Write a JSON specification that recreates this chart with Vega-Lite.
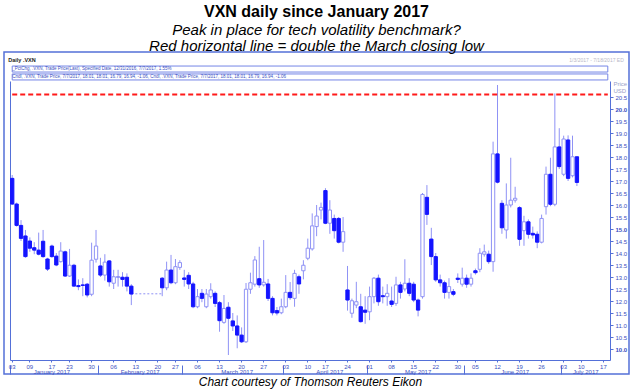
{
  "$schema": "https://vega.github.io/schema/vega-lite/v6.json",
  "width": 625,
  "height": 322,
  "autosize": {"type": "none"},
  "padding": {"left": 4, "top": 52, "right": 4, "bottom": 17},
  "background": "white",
  "title": {
    "text": "VXN daily since January 2017",
    "subtitle": ["Peak in place for tech volatility benchmark?", "Red horizontal line = double the March closing low"],
    "anchor": "middle", "frame": "group",
    "font": "Liberation Sans", "fontSize": 16, "fontWeight": "bold", "color": "#000000",
    "subtitleFont": "Liberation Sans", "subtitleFontSize": 15, "subtitleFontStyle": "italic", "subtitleColor": "#000000",
    "subtitleLineHeight": 16, "subtitlePadding": 3, "offset": -2
  },
  "config": {
    "view": {"stroke": "#5470d8", "strokeWidth": 1.5},
    "font": "Liberation Sans",
    "axis": {"grid": false, "labelFont": "Liberation Sans", "titleFont": "Liberation Sans"}
  },
  "datasets": {
    "ohlc": [
      {"d":"2017-01-03","o":17.11,"h":17.25,"l":16.0,"c":16.04},
      {"d":"2017-01-04","o":16.04,"h":16.1,"l":15.1,"c":15.15},
      {"d":"2017-01-05","o":15.15,"h":15.37,"l":14.5,"c":14.61},
      {"d":"2017-01-06","o":14.71,"h":14.96,"l":13.8,"c":13.85},
      {"d":"2017-01-09","o":14.5,"h":14.65,"l":14.05,"c":14.2},
      {"d":"2017-01-10","o":14.22,"h":14.45,"l":13.95,"c":14.12},
      {"d":"2017-01-11","o":14.12,"h":14.85,"l":13.9,"c":13.95},
      {"d":"2017-01-12","o":14.49,"h":14.96,"l":13.8,"c":13.85},
      {"d":"2017-01-13","o":13.75,"h":13.8,"l":13.25,"c":13.33},
      {"d":"2017-01-17","o":14.29,"h":14.35,"l":13.8,"c":13.85},
      {"d":"2017-01-18","o":13.87,"h":14.0,"l":13.45,"c":13.5},
      {"d":"2017-01-19","o":13.64,"h":14.45,"l":13.6,"c":14.08},
      {"d":"2017-01-20","o":14.05,"h":14.1,"l":13.0,"c":13.04},
      {"d":"2017-01-23","o":13.04,"h":14.17,"l":13.0,"c":13.49},
      {"d":"2017-01-24","o":13.49,"h":13.55,"l":12.6,"c":12.62},
      {"d":"2017-01-25","o":12.64,"h":12.9,"l":12.45,"c":12.6},
      {"d":"2017-01-26","o":12.67,"h":12.95,"l":12.2,"c":12.65},
      {"d":"2017-01-27","o":12.7,"h":12.75,"l":12.15,"c":12.25},
      {"d":"2017-01-30","o":12.28,"h":14.43,"l":12.2,"c":13.7},
      {"d":"2017-01-31","o":13.74,"h":14.96,"l":13.6,"c":14.29},
      {"d":"2017-02-01","o":13.46,"h":13.8,"l":13.0,"c":13.08},
      {"d":"2017-02-02","o":13.08,"h":13.95,"l":12.85,"c":13.62},
      {"d":"2017-02-03","o":13.67,"h":13.7,"l":12.6,"c":12.8},
      {"d":"2017-02-06","o":12.74,"h":13.3,"l":12.5,"c":13.01},
      {"d":"2017-02-07","o":12.98,"h":13.3,"l":12.6,"c":13.02},
      {"d":"2017-02-08","o":12.99,"h":13.2,"l":12.6,"c":12.9},
      {"d":"2017-02-09","o":12.99,"h":13.15,"l":12.4,"c":12.62},
      {"d":"2017-02-10","o":12.62,"h":12.7,"l":11.83,"c":12.29},
      {"d":"2017-02-22","o":12.95,"h":13.0,"l":12.2,"c":12.55},
      {"d":"2017-02-23","o":12.55,"h":13.64,"l":12.45,"c":13.29},
      {"d":"2017-02-24","o":13.29,"h":13.92,"l":12.7,"c":12.76},
      {"d":"2017-02-27","o":12.76,"h":13.75,"l":12.7,"c":13.43},
      {"d":"2017-02-28","o":13.4,"h":13.7,"l":13.3,"c":13.6},
      {"d":"2017-03-01","o":12.96,"h":13.3,"l":12.6,"c":12.9},
      {"d":"2017-03-02","o":13.07,"h":13.2,"l":12.5,"c":12.71},
      {"d":"2017-03-03","o":12.71,"h":12.8,"l":11.7,"c":11.76},
      {"d":"2017-03-06","o":11.76,"h":12.5,"l":11.7,"c":12.18},
      {"d":"2017-03-07","o":12.32,"h":12.5,"l":11.95,"c":12.11},
      {"d":"2017-03-08","o":11.76,"h":12.5,"l":11.7,"c":12.29},
      {"d":"2017-03-09","o":12.18,"h":12.74,"l":12.1,"c":12.46},
      {"d":"2017-03-10","o":12.32,"h":12.4,"l":11.75,"c":11.9},
      {"d":"2017-03-13","o":11.93,"h":12.0,"l":10.72,"c":11.18},
      {"d":"2017-03-14","o":11.11,"h":12.25,"l":11.05,"c":11.69},
      {"d":"2017-03-15","o":11.74,"h":11.95,"l":9.75,"c":11.28},
      {"d":"2017-03-16","o":11.17,"h":11.5,"l":10.75,"c":10.96},
      {"d":"2017-03-17","o":10.96,"h":11.4,"l":10.03,"c":10.58},
      {"d":"2017-03-20","o":10.58,"h":10.9,"l":10.25,"c":10.3},
      {"d":"2017-03-21","o":10.3,"h":12.75,"l":10.25,"c":12.49},
      {"d":"2017-03-22","o":12.49,"h":13.18,"l":12.3,"c":12.76},
      {"d":"2017-03-23","o":12.7,"h":13.87,"l":12.6,"c":13.71},
      {"d":"2017-03-24","o":12.93,"h":14.26,"l":12.55,"c":12.67},
      {"d":"2017-03-27","o":12.67,"h":14.54,"l":12.6,"c":12.78},
      {"d":"2017-03-28","o":12.71,"h":12.92,"l":12.0,"c":12.11},
      {"d":"2017-03-29","o":12.11,"h":12.2,"l":11.4,"c":11.51},
      {"d":"2017-03-30","o":11.6,"h":11.75,"l":11.4,"c":11.5},
      {"d":"2017-03-31","o":11.51,"h":12.1,"l":11.45,"c":11.76},
      {"d":"2017-04-03","o":11.76,"h":13.08,"l":11.7,"c":12.36},
      {"d":"2017-04-04","o":12.36,"h":12.79,"l":12.05,"c":12.14},
      {"d":"2017-04-05","o":12.11,"h":13.3,"l":11.76,"c":13.15},
      {"d":"2017-04-06","o":13.01,"h":13.1,"l":12.3,"c":12.71},
      {"d":"2017-04-07","o":13.26,"h":13.7,"l":12.9,"c":13.49},
      {"d":"2017-04-10","o":13.78,"h":14.6,"l":13.7,"c":14.2},
      {"d":"2017-04-11","o":14.17,"h":15.65,"l":14.1,"c":15.13},
      {"d":"2017-04-12","o":15.1,"h":16.0,"l":14.7,"c":15.54},
      {"d":"2017-04-13","o":15.79,"h":16.1,"l":15.4,"c":15.9},
      {"d":"2017-04-17","o":16.6,"h":16.7,"l":15.2,"c":15.24},
      {"d":"2017-04-18","o":15.24,"h":16.2,"l":14.8,"c":15.79},
      {"d":"2017-04-19","o":15.44,"h":15.6,"l":14.6,"c":14.93},
      {"d":"2017-04-20","o":15.44,"h":15.5,"l":14.4,"c":14.45},
      {"d":"2017-04-21","o":14.45,"h":15.5,"l":14.05,"c":14.89},
      {"d":"2017-04-24","o":12.46,"h":13.46,"l":11.6,"c":12.04},
      {"d":"2017-04-25","o":11.49,"h":12.1,"l":11.3,"c":12.01},
      {"d":"2017-04-26","o":11.83,"h":12.8,"l":11.7,"c":11.97},
      {"d":"2017-04-27","o":11.76,"h":12.3,"l":11.1,"c":11.14},
      {"d":"2017-04-28","o":11.62,"h":12.2,"l":11.05,"c":11.53},
      {"d":"2017-05-01","o":11.55,"h":12.6,"l":11.2,"c":12.18},
      {"d":"2017-05-02","o":12.18,"h":13.0,"l":11.9,"c":12.95},
      {"d":"2017-05-03","o":12.95,"h":13.1,"l":11.8,"c":11.97},
      {"d":"2017-05-04","o":12.22,"h":12.6,"l":11.9,"c":12.18},
      {"d":"2017-05-05","o":12.18,"h":12.7,"l":11.8,"c":12.32},
      {"d":"2017-05-08","o":12.0,"h":12.6,"l":11.75,"c":11.86},
      {"d":"2017-05-09","o":11.9,"h":13.01,"l":11.8,"c":12.67},
      {"d":"2017-05-10","o":12.67,"h":12.8,"l":12.1,"c":12.36},
      {"d":"2017-05-11","o":12.5,"h":13.74,"l":12.4,"c":12.74},
      {"d":"2017-05-12","o":12.74,"h":12.95,"l":12.2,"c":12.32},
      {"d":"2017-05-15","o":12.7,"h":12.8,"l":11.95,"c":12.04},
      {"d":"2017-05-16","o":12.04,"h":12.1,"l":11.36,"c":11.62},
      {"d":"2017-05-17","o":12.18,"h":16.5,"l":12.1,"c":16.44},
      {"d":"2017-05-18","o":16.32,"h":16.83,"l":15.17,"c":15.61},
      {"d":"2017-05-19","o":14.58,"h":15.05,"l":13.5,"c":13.85},
      {"d":"2017-05-22","o":13.85,"h":14.0,"l":12.8,"c":12.88},
      {"d":"2017-05-23","o":12.88,"h":13.1,"l":12.6,"c":12.76},
      {"d":"2017-05-24","o":12.76,"h":12.85,"l":12.1,"c":12.36},
      {"d":"2017-05-25","o":12.36,"h":12.95,"l":12.1,"c":12.6},
      {"d":"2017-05-26","o":12.39,"h":12.5,"l":12.2,"c":12.28},
      {"d":"2017-05-30","o":12.95,"h":13.15,"l":12.75,"c":12.9},
      {"d":"2017-05-31","o":12.7,"h":13.39,"l":12.6,"c":12.95},
      {"d":"2017-06-01","o":12.95,"h":13.1,"l":12.55,"c":12.7},
      {"d":"2017-06-02","o":12.7,"h":13.15,"l":12.6,"c":12.95},
      {"d":"2017-06-05","o":13.26,"h":13.35,"l":13.1,"c":13.18},
      {"d":"2017-06-06","o":13.32,"h":14.2,"l":13.2,"c":13.99},
      {"d":"2017-06-07","o":13.95,"h":14.35,"l":13.85,"c":14.05},
      {"d":"2017-06-08","o":13.95,"h":14.1,"l":13.55,"c":13.64},
      {"d":"2017-06-09","o":13.64,"h":18.64,"l":13.22,"c":18.13},
      {"d":"2017-06-12","o":18.13,"h":21.0,"l":16.9,"c":16.95},
      {"d":"2017-06-13","o":16.07,"h":16.2,"l":14.8,"c":15.05},
      {"d":"2017-06-14","o":14.96,"h":16.9,"l":14.6,"c":16.0},
      {"d":"2017-06-15","o":16.0,"h":17.97,"l":15.9,"c":16.2},
      {"d":"2017-06-16","o":16.2,"h":16.76,"l":16.1,"c":16.28},
      {"d":"2017-06-19","o":15.89,"h":15.95,"l":14.3,"c":14.57},
      {"d":"2017-06-20","o":14.93,"h":15.55,"l":14.3,"c":15.3},
      {"d":"2017-06-21","o":15.3,"h":15.4,"l":14.6,"c":14.78},
      {"d":"2017-06-22","o":14.82,"h":15.1,"l":14.6,"c":14.75},
      {"d":"2017-06-23","o":14.78,"h":14.9,"l":14.2,"c":14.45},
      {"d":"2017-06-26","o":14.45,"h":15.6,"l":14.4,"c":15.44},
      {"d":"2017-06-27","o":15.93,"h":17.6,"l":15.6,"c":17.28},
      {"d":"2017-06-28","o":17.28,"h":17.97,"l":15.95,"c":16.03},
      {"d":"2017-06-29","o":16.03,"h":20.65,"l":15.95,"c":18.42},
      {"d":"2017-06-30","o":18.42,"h":19.2,"l":17.5,"c":17.6},
      {"d":"2017-07-03","o":17.28,"h":18.89,"l":17.2,"c":18.75},
      {"d":"2017-07-05","o":18.71,"h":18.9,"l":17.0,"c":17.11},
      {"d":"2017-07-06","o":17.22,"h":18.89,"l":17.15,"c":18.01},
      {"d":"2017-07-07","o":18.01,"h":18.01,"l":16.79,"c":16.94}
    ],
    "gap": [
      {"d":"2017-02-10","v":12.3},
      {"d":"2017-02-22","v":12.3}
    ],
    "ref": [
      {"d1":"2017-01-03","d2":"2017-07-18","v":20.6}
    ],
    "rows": [
      {"d1":"2017-01-03","d2":"2017-07-18","top":21.79,"bottom":21.54},
      {"d1":"2017-01-03","d2":"2017-07-18","top":21.46,"bottom":21.21}
    ],
    "rowtext": [
      {"d":"2017-01-03","v":21.67,"t":"_PctChg, .VXN, Trade Price(Last), Specified Date, 12/31/2016, 7/7/2017, 1.55%"},
      {"d":"2017-01-03","v":21.33,"t":"Cndl, .VXN, Trade Price, 7/7/2017, 18.01, 18.01, 16.79, 16.94, -1.06, Cndl, .VXN, Trade Price, 7/7/2017, 18.01, 18.01, 16.79, 16.94, -1.06"}
    ],
    "head": [
      {"d":"2017-01-03","v":22.04,"t":"Daily .VXN"}
    ],
    "range": [
      {"d":"2017-07-18","v":22.04,"t":"1/3/2017 - 7/18/2017 ED"}
    ]
  },
  "layer": [
    {
      "data": {"name": "gap"},
      "mark": {"type": "line", "color": "#8f92f5", "strokeWidth": 1, "strokeDash": [2, 2]},
      "encoding": {
        "x": {"field": "d", "type": "ordinal",
          "axis": {"orient": "bottom", "offset": -9, "values": ["2017-01-03","2017-02-01","2017-03-01","2017-04-03","2017-05-01","2017-06-01","2017-07-03"],
            "bandPosition": 0, "tickSize": 9, "tickColor": "#5470d8", "labels": false, "domain": false, "title": null}},
        "y": {"field": "v", "type": "quantitative", "axis": null}
      }
    },
    {
      "data": {"name": "ohlc"},
      "mark": {"type": "rule", "color": "#8f92f5", "strokeWidth": 1},
      "encoding": {
        "x": {"field": "d", "type": "ordinal",
          "scale": {"domain": ["2017-01-03","2017-01-04","2017-01-05","2017-01-06","2017-01-09","2017-01-10","2017-01-11","2017-01-12","2017-01-13","2017-01-17","2017-01-18","2017-01-19","2017-01-20","2017-01-23","2017-01-24","2017-01-25","2017-01-26","2017-01-27","2017-01-30","2017-01-31",
            "2017-02-01","2017-02-02","2017-02-03","2017-02-06","2017-02-07","2017-02-08","2017-02-09","2017-02-10","2017-02-13","2017-02-14","2017-02-15","2017-02-16","2017-02-17","2017-02-21","2017-02-22","2017-02-23","2017-02-24","2017-02-27","2017-02-28",
            "2017-03-01","2017-03-02","2017-03-03","2017-03-06","2017-03-07","2017-03-08","2017-03-09","2017-03-10","2017-03-13","2017-03-14","2017-03-15","2017-03-16","2017-03-17","2017-03-20","2017-03-21","2017-03-22","2017-03-23","2017-03-24","2017-03-27","2017-03-28","2017-03-29","2017-03-30","2017-03-31",
            "2017-04-03","2017-04-04","2017-04-05","2017-04-06","2017-04-07","2017-04-10","2017-04-11","2017-04-12","2017-04-13","2017-04-17","2017-04-18","2017-04-19","2017-04-20","2017-04-21","2017-04-24","2017-04-25","2017-04-26","2017-04-27","2017-04-28",
            "2017-05-01","2017-05-02","2017-05-03","2017-05-04","2017-05-05","2017-05-08","2017-05-09","2017-05-10","2017-05-11","2017-05-12","2017-05-15","2017-05-16","2017-05-17","2017-05-18","2017-05-19","2017-05-22","2017-05-23","2017-05-24","2017-05-25","2017-05-26","2017-05-30","2017-05-31",
            "2017-06-01","2017-06-02","2017-06-05","2017-06-06","2017-06-07","2017-06-08","2017-06-09","2017-06-12","2017-06-13","2017-06-14","2017-06-15","2017-06-16","2017-06-19","2017-06-20","2017-06-21","2017-06-22","2017-06-23","2017-06-26","2017-06-27","2017-06-28","2017-06-29","2017-06-30",
            "2017-07-03","2017-07-05","2017-07-06","2017-07-07","2017-07-10","2017-07-11","2017-07-12","2017-07-13","2017-07-14","2017-07-17","2017-07-18"],
            "range": [6, 606], "paddingInner": 0, "paddingOuter": 0},
          "axis": {"orient": "bottom", "offset": -14,
            "values": ["2017-01-03","2017-01-09","2017-01-17","2017-01-23","2017-01-30","2017-02-06","2017-02-13","2017-02-21","2017-02-27","2017-03-06","2017-03-13","2017-03-20","2017-03-27","2017-04-03","2017-04-10","2017-04-17","2017-04-24","2017-05-01","2017-05-08","2017-05-15","2017-05-22","2017-05-30","2017-06-05","2017-06-12","2017-06-19","2017-06-26","2017-07-03","2017-07-10","2017-07-17"],
            "labelExpr": "datum.value == '2017-02-21' ? '20' : substring(datum.value, 8, 10)",
            "labelAngle": 0, "labelFontSize": 6, "labelColor": "#3a4fc0", "labelPadding": 1, "labelOverlap": false,
            "tickSize": 2, "tickColor": "#5470d8", "domainColor": "#5470d8",
            "title": "Chart courtesy of Thomson Reuters Eikon", "titleFontSize": 12, "titleFontStyle": "italic", "titleFontWeight": "normal",
            "titleColor": "#000000", "titleY": 25, "titleBaseline": "alphabetic"}},
        "y": {"field": "l", "type": "quantitative",
          "scale": {"domain": [9.5417, 21.1667], "range": [308, 29], "zero": false, "nice": false},
          "axis": {"orient": "right", "offset": -19,
            "values": [10,10.5,11,11.5,12,12.5,13,13.5,14,14.5,15,15.5,16,16.5,17,17.5,18,18.5,19,19.5,20,20.5],
            "labelFontSize": 6, "labelColor": "#3a4fc0", "labelPadding": 2,
            "labelFontWeight": {"condition": {"test": "datum.value % 5 === 0", "value": "bold"}, "value": "normal"},
            "tickSize": 3, "tickColor": "#5470d8", "domainColor": "#5470d8",
            "title": ["Price", "USD"], "titleAngle": 0, "titleAlign": "left", "titleBaseline": "top",
            "titleX": 3, "titleY": 28, "titleFontSize": 6, "titleFontWeight": "normal", "titleColor": "#9aa0c8", "titleLineHeight": 7}},
        "y2": {"field": "h"}
      }
    },
    {
      "data": {"name": "ohlc"},
      "mark": {"type": "bar", "width": {"band": 0.75}, "strokeWidth": 1},
      "encoding": {
        "x": {"field": "d", "type": "ordinal",
          "axis": {"orient": "bottom", "offset": -14,
            "values": ["2017-01-17","2017-02-14","2017-03-17","2017-04-18","2017-05-16","2017-06-16","2017-07-11"],
            "labelExpr": "['January','February','March','April','May','June','July'][toNumber(substring(datum.value, 5, 7)) - 1] + ' 2017'",
            "labelAngle": 0, "labelFontSize": 6, "labelColor": "#3a4fc0", "labelPadding": 8, "labelOverlap": false,
            "ticks": false, "domain": false, "title": null}},
        "y": {"field": "o", "type": "quantitative",
          "axis": {"orient": "left", "offset": -6, "labels": false, "ticks": false, "domainColor": "#5470d8", "title": null}},
        "y2": {"field": "c"},
        "fill": {"condition": {"test": "datum.c < datum.o", "value": "#1414ff"}, "value": "#ffffff"},
        "stroke": {"condition": {"test": "datum.c < datum.o", "value": "#1414ff"}, "value": "#8f92f5"}
      }
    },
    {
      "data": {"name": "ref"},
      "mark": {"type": "rule", "color": "#ff1a1a", "strokeWidth": 2, "strokeDash": [5, 3]},
      "encoding": {
        "x": {"field": "d1", "type": "ordinal", "axis": null},
        "x2": {"field": "d2"},
        "y": {"field": "v", "type": "quantitative", "axis": null}
      }
    },
    {
      "data": {"name": "rows"},
      "mark": {"type": "rect", "fill": "#ffffff", "stroke": "#7585e6", "strokeWidth": 1},
      "encoding": {
        "x": {"field": "d1", "type": "ordinal", "axis": null},
        "x2": {"field": "d2"},
        "y": {"field": "top", "type": "quantitative", "axis": null},
        "y2": {"field": "bottom"}
      }
    },
    {
      "data": {"name": "rowtext"},
      "mark": {"type": "text", "align": "left", "baseline": "middle", "fontSize": 4.5, "color": "#3a4fc0", "dx": 0},
      "encoding": {
        "x": {"field": "d", "type": "ordinal", "axis": null},
        "y": {"field": "v", "type": "quantitative", "axis": null},
        "text": {"field": "t"}
      }
    },
    {
      "data": {"name": "head"},
      "mark": {"type": "text", "align": "left", "baseline": "middle", "fontSize": 5.5, "fontWeight": "bold", "color": "#222222", "dx": -4},
      "encoding": {
        "x": {"field": "d", "type": "ordinal", "axis": null},
        "y": {"field": "v", "type": "quantitative", "axis": null},
        "text": {"field": "t"}
      }
    },
    {
      "data": {"name": "range"},
      "mark": {"type": "text", "align": "right", "baseline": "middle", "fontSize": 5, "color": "#b8b8c8", "dx": 16},
      "encoding": {
        "x": {"field": "d", "type": "ordinal", "axis": null},
        "y": {"field": "v", "type": "quantitative", "axis": null},
        "text": {"field": "t"}
      }
    }
  ],
  "resolve": {"axis": {"x": "independent", "y": "independent"}}
}
